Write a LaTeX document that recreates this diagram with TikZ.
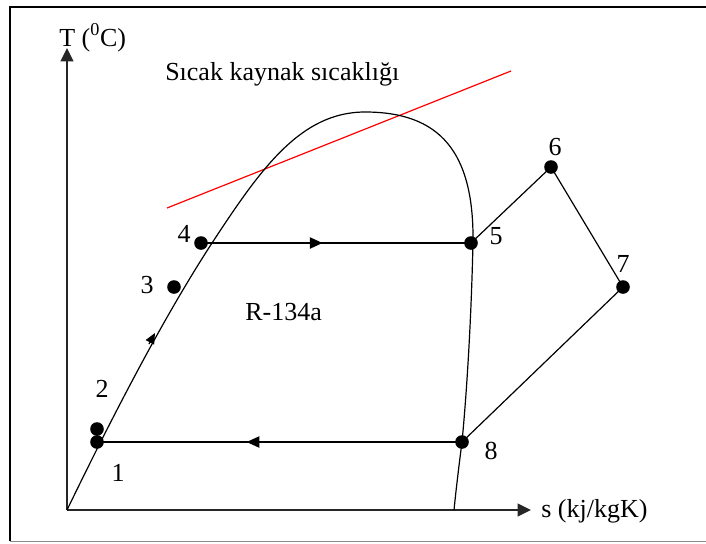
\documentclass[tikz,border=0pt]{standalone}
\usepackage{fontspec}
\setmainfont{Liberation Serif}
\usetikzlibrary{arrows.meta,decorations.markings}
\begin{document}
\begin{tikzpicture}[x=0.75pt,y=-0.75pt,
  lbl/.style={font=\fontsize{19.5}{23}\selectfont, inner sep=0pt, anchor=base},
  txt/.style={font=\fontsize{19.5}{23}\selectfont, inner sep=0pt, anchor=base west},
  pt/.style={circle, fill=black, inner sep=0pt, minimum size=10.2pt},
  curve/.style={line width=0.9pt, black},
  axis/.style={line width=1.4pt, black!85, -{Triangle[length=10pt,width=9.5pt]}},
  tipmark/.style={postaction={decorate}, decoration={markings, mark=at position #1 with {\arrow{Triangle[length=9.5pt,width=8.5pt]}}}},
  frame/.style={line width=2pt, black}]
\useasboundingbox (0,0) rectangle (706,543);
% frame
\draw[frame] (10,541) -- (10,7) -- (706,7);
\draw[line width=1.3pt, black!45] (10,541.5) -- (706,541.5);
% axes
\coordinate (O) at (67,510);
\coordinate (Ytip) at (67,48);
\coordinate (Xtip) at (531,510);
\draw[axis] (O) -- (Ytip);
\draw[axis] (O) -- (Xtip);
\node[txt] (Tlab) at (59,46) {T (\textsuperscript{0}C)};
\node[txt] (Slab) at (541,517) {s (kj/kgK)};
% hot source line
\coordinate (r1) at (167,208);
\coordinate (r2) at (511,71);
\draw[red, line width=0.9pt] (r1) -- (r2);
\node[txt] (hot) at (165,80) {S\i cak kaynak s\i cakl\i \u{g}\i};
% saturation dome
\coordinate (d0) at (67,510);
\coordinate (d1) at (212,243);
\coordinate (d2) at (365,112);
\coordinate (d3) at (473,242);
\coordinate (d4) at (462,442);
\coordinate (d5) at (454,510);
\draw[curve] (d0) .. controls (130,380) and (175,300) .. (d1)
  .. controls (260,170) and (300,112) .. (d2)
  .. controls (440,112) and (474,152) .. (d3)
  .. controls (471,330) and (466,400) .. (d4)
  .. controls (459,465) and (456,490) .. (d5);
\coordinate (da) at (149,344);
\coordinate (db) at (155,333);
\draw[curve, -{Triangle[length=8pt,width=7pt]}] (da) -- (db);
% state points
\node[pt] (p1) at (97,442) {};
\node[pt] (p2) at (97,429) {};
\node[pt] (p3) at (174,287) {};
\node[pt] (p4) at (201,243) {};
\node[pt] (p5) at (471,243) {};
\node[pt] (p6) at (551,167) {};
\node[pt] (p7) at (623,287) {};
\node[pt] (p8) at (462,442) {};
% cycle lines
\draw[curve, tipmark=0.45] (p4.center) -- (p5.center);
\draw[curve] (p5.center) -- (p6.center) -- (p7.center) -- (p8.center);
\draw[curve, tipmark=0.59] (p8.center) -- (p1.center);
% labels
\node[lbl] (l1) at (118,481) {1};
\node[lbl] (l2) at (102,397) {2};
\node[lbl] (l3) at (147,293) {3};
\node[lbl] (l4) at (184,242) {4};
\node[lbl] (l5) at (496,244) {5};
\node[lbl] (l6) at (555,155) {6};
\node[lbl] (l7) at (623,272) {7};
\node[lbl] (l8) at (491,459) {8};
\node[txt] (ref) at (245,320) {R-134a};
\end{tikzpicture}
\end{document}
